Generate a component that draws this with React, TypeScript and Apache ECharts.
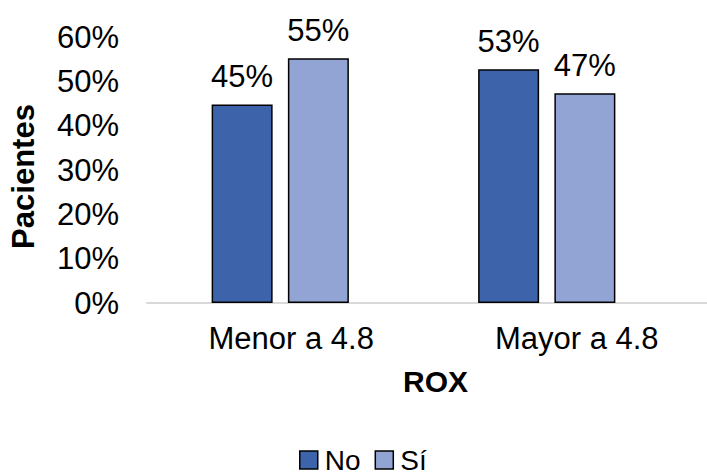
import React, { useEffect, useRef } from "react";
import * as echarts from "echarts";

const categories = ["Menor a 4.8", "Mayor a 4.8"];
const seriesNames = ["No", "Sí"];
const noValues = [44.8, 52.7];
const siValues = [55.2, 47.3];
const yTicks = [0, 10, 20, 30, 40, 50, 60];
const colors = ["#3D64AB", "#91A4D4"];

const FONT = "Liberation Sans, Arial, sans-serif";

export default function App() {
  const ref = useRef<HTMLDivElement>(null);
  useEffect(() => {
    if (!ref.current) return;
    const chart = echarts.init(ref.current, undefined, { renderer: "svg" });
    const mkSeries = (name: string, data: number[], color: string) => ({
      name,
      type: "bar",
      data,
      barWidth: 61,
      barGap: "25%",
      itemStyle: { color, borderColor: "#000", borderWidth: 1.5 },
      label: {
        show: true,
        position: "top",
        distance: 12,
        fontFamily: FONT,
        fontSize: 31,
        color: "#000",
        formatter: (p: any) => Math.round(p.value) + "%",
      },
    });
    chart.setOption({
      animation: false,
      textStyle: { fontFamily: FONT },
      grid: { left: 146, right: 27, top: 37, bottom: 171, containLabel: false },
      legend: {
        data: seriesNames,
        left: 299,
        top: 446,
        itemWidth: 18,
        itemHeight: 18,
        itemGap: 14,
        icon: "rect",
        padding: 0,
        itemStyle: { borderColor: "#000", borderWidth: 1.5 },
        textStyle: {
          fontFamily: FONT,
          fontSize: 28,
          lineHeight: 26,
          color: "#000",
          padding: [0, 0, 0, 2],
        },
      },
      xAxis: {
        type: "category",
        data: categories,
        axisLine: { show: true, lineStyle: { color: "#D9D9D9", width: 2 } },
        axisTick: { show: false },
        axisLabel: {
          interval: 0,
          margin: 20,
          fontFamily: FONT,
          fontSize: 31,
          color: "#000",
          formatter: (v: string, i: number) => (i === 0 ? "{a|" + v + "}" : "{b|" + v + "}"),
          rich: {
            a: { fontFamily: FONT, fontSize: 31, color: "#000", padding: [0, 0, 0, 22] },
            b: { fontFamily: FONT, fontSize: 31, color: "#000", padding: [0, 0, 0, 60] },
          },
        },
        name: "ROX",
        nameLocation: "middle",
        nameGap: 63,
        nameTextStyle: {
          fontFamily: FONT,
          fontSize: 30,
          fontWeight: "bold",
          color: "#000",
          padding: [0, 0, 0, 44],
        },
      },
      yAxis: {
        type: "value",
        min: yTicks[0],
        max: yTicks[yTicks.length - 1],
        interval: 10,
        splitLine: { show: false },
        axisLine: { show: false },
        axisTick: { show: false },
        axisLabel: {
          margin: 28,
          fontFamily: FONT,
          fontSize: 31,
          color: "#000",
          formatter: (v: number) => v + "%",
        },
        name: "Pacientes",
        nameLocation: "middle",
        nameGap: 108,
        nameRotate: 90,
        nameTextStyle: {
          fontFamily: FONT,
          fontSize: 31,
          fontWeight: "bold",
          color: "#000",
          padding: [0, 13, 0, 0],
        },
      },
      graphic: [
        {
          type: "line",
          shape: { x1: 679, y1: 303, x2: 707, y2: 303 },
          style: { stroke: "#D9D9D9", lineWidth: 2 },
        },
      ],
      series: [
        mkSeries(seriesNames[0], noValues, colors[0]),
        mkSeries(seriesNames[1], siValues, colors[1]),
      ],
    });
    return () => chart.dispose();
  }, []);
  return (
    <div
      ref={ref}
      style={{ position: "fixed", left: 0, top: 0, width: 707, height: 474, background: "#fff" }}
    />
  );
}
